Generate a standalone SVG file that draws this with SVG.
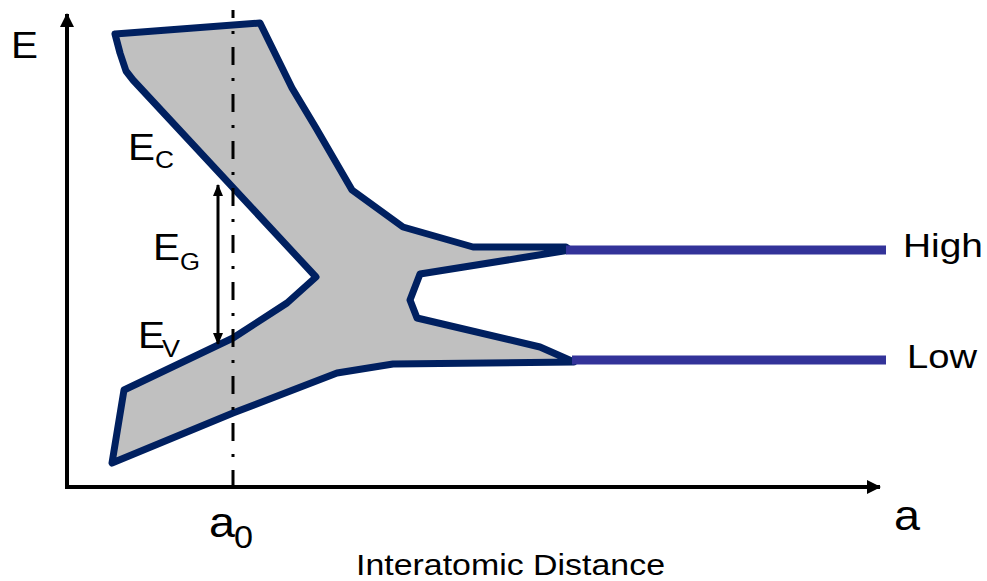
<svg xmlns="http://www.w3.org/2000/svg" width="987" height="581" viewBox="0 0 987 581">
<style>
text{font-family:"Liberation Sans",Arial,sans-serif;fill:#000}
.ax{stroke:#000;stroke-width:4;fill:none}
.band{fill:#c0c0c0;stroke:#002060;stroke-width:7;stroke-linejoin:round}
.lvl{stroke:#333399;stroke-width:9;fill:none}
</style>
<defs>
<marker id="ah" viewBox="0 0 14 14" refX="13" refY="7" markerWidth="14" markerHeight="14" markerUnits="userSpaceOnUse" orient="auto"><path d="M0,0 L14,7 L0,14 Z" fill="#000"/></marker>
<marker id="sh" viewBox="0 0 12 10" refX="11" refY="5" markerWidth="12" markerHeight="10" markerUnits="userSpaceOnUse" orient="auto-start-reverse"><path d="M0,0 L12,5 L0,10 Z" fill="#000"/></marker>
</defs>
<g id="band">
<polygon class="band" points="115,34 260,23 292,88 316,128 352,190 403,227 473,247 566,247 570,250 420,274 410,300 417,318 540,347 574,362 393,364 337,373 233,413 112,463 124,390 233,338 287,303 316,277 133,80 126,71 120,53"/>
</g>
<g id="levels">
<line class="lvl" x1="566" y1="250" x2="886" y2="250"/>
<line class="lvl" x1="572" y1="360" x2="886" y2="360"/>
</g>
<g id="axes">
<line class="ax" x1="67" y1="489" x2="67" y2="14" marker-end="url(#ah)"/>
<line class="ax" x1="65" y1="487" x2="880" y2="487" marker-end="url(#ah)"/>
</g>
<g id="connectors">
<line x1="233" y1="10" x2="233" y2="487" stroke="#000" stroke-width="3" stroke-dasharray="18 13 3 13" stroke-dashoffset="10"/>
<line x1="218" y1="185" x2="218" y2="344" stroke="#000" stroke-width="3" marker-start="url(#sh)" marker-end="url(#sh)"/>
</g>
<g id="labels">
<text x="11" y="58" font-size="36" textLength="27" lengthAdjust="spacingAndGlyphs">E</text>
<text x="128" y="160" font-size="36" textLength="27" lengthAdjust="spacingAndGlyphs">E</text><text x="155" y="168" font-size="23" textLength="19" lengthAdjust="spacingAndGlyphs">C</text>
<text x="153" y="260" font-size="36" textLength="27" lengthAdjust="spacingAndGlyphs">E</text><text x="180" y="270" font-size="23" textLength="20" lengthAdjust="spacingAndGlyphs">G</text>
<text x="138" y="348" font-size="36" textLength="27" lengthAdjust="spacingAndGlyphs">E</text><text x="162" y="357" font-size="23" textLength="18" lengthAdjust="spacingAndGlyphs">V</text>
<text x="903" y="257" font-size="33" textLength="80" lengthAdjust="spacingAndGlyphs">High</text>
<text x="907" y="368" font-size="34" textLength="70" lengthAdjust="spacingAndGlyphs">Low</text>
<text x="894" y="530" font-size="42" textLength="26" lengthAdjust="spacingAndGlyphs">a</text>
<text x="209" y="537" font-size="42" textLength="26" lengthAdjust="spacingAndGlyphs">a</text><text x="234" y="548" font-size="32" textLength="19" lengthAdjust="spacingAndGlyphs">0</text>
<text x="356" y="575" font-size="30" textLength="309" lengthAdjust="spacingAndGlyphs">Interatomic Distance</text>
</g>
</svg>
